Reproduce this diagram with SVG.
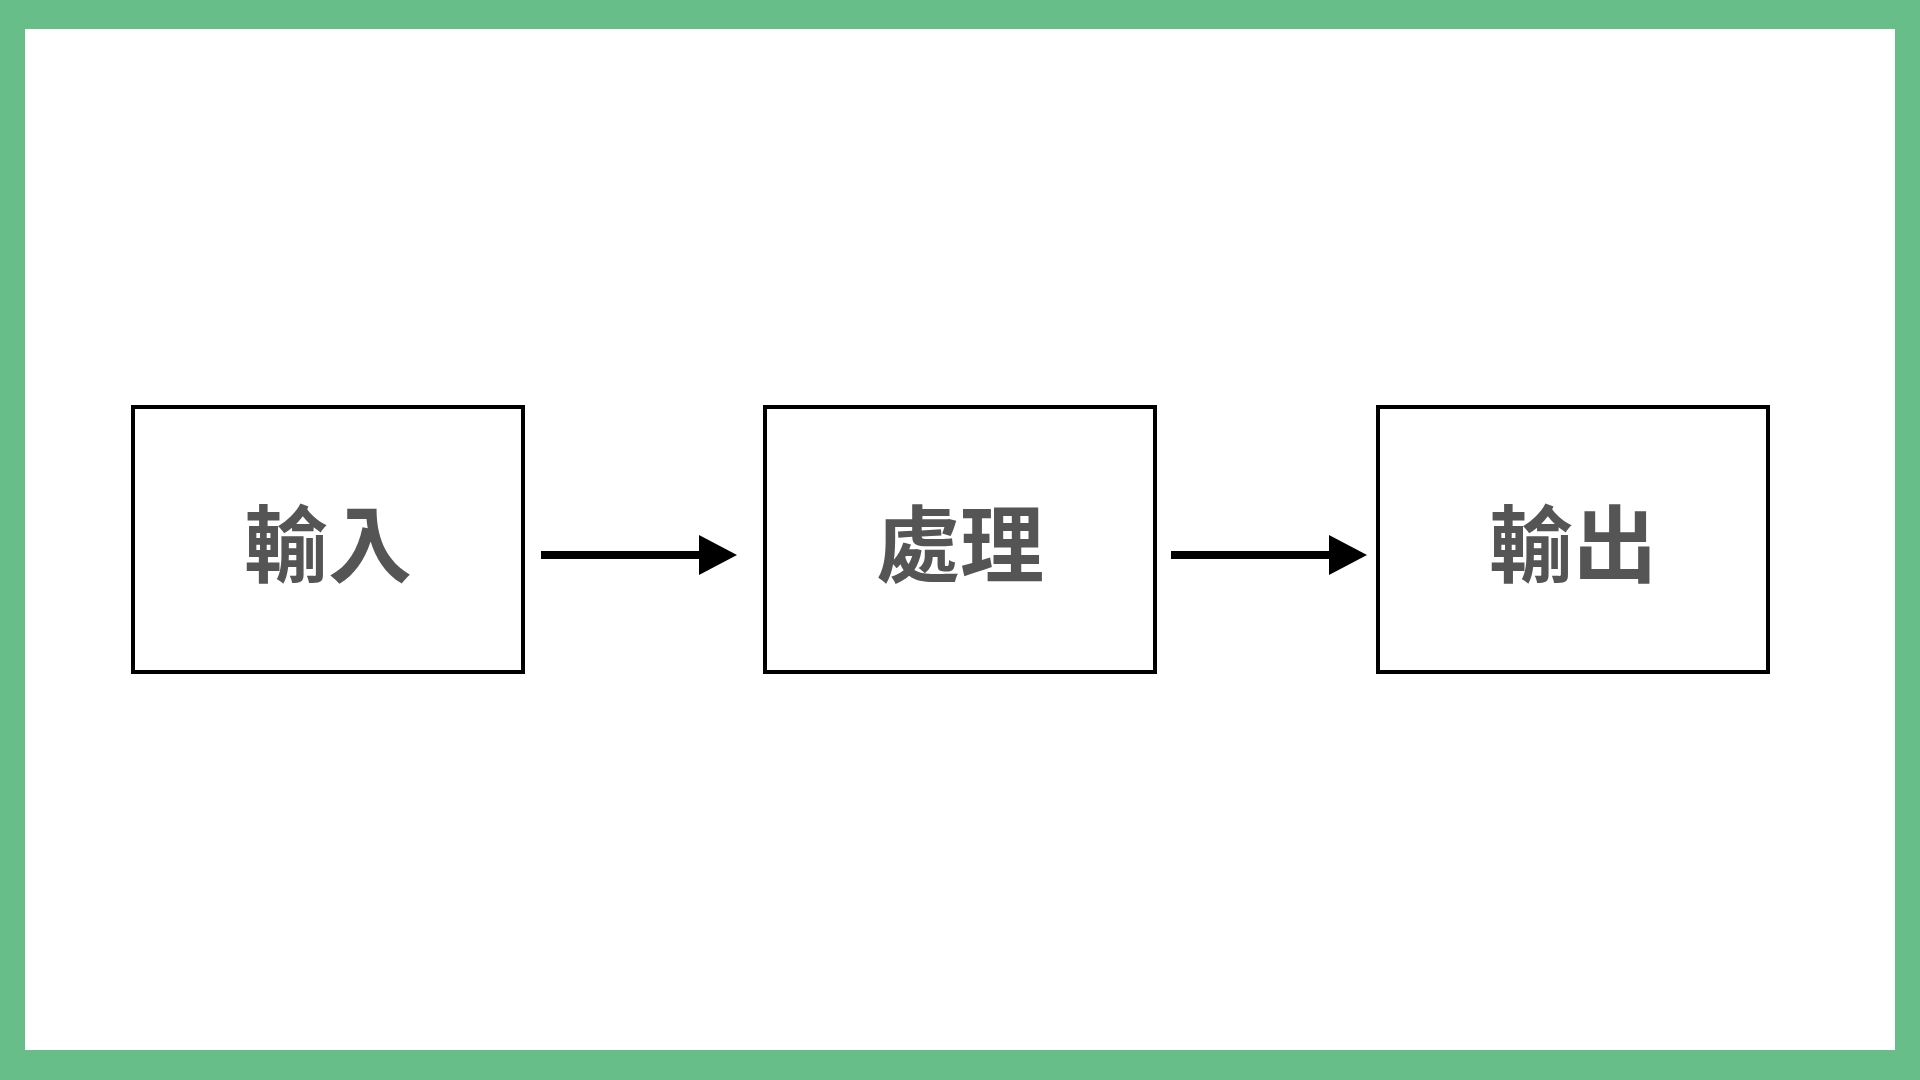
<svg xmlns="http://www.w3.org/2000/svg" width="1920" height="1080" viewBox="0 0 1920 1080">
<style>
.box{fill:#fff;stroke:#000;stroke-width:4}
.lbl{font-family:"Noto Sans CJK TC","Noto Sans CJK SC",sans-serif;font-weight:bold;font-size:84px;fill:#555;text-anchor:middle;dominant-baseline:central}
.conn{stroke:#000;stroke-width:8;fill:none}
</style>
<rect x="0" y="0" width="1920" height="1080" fill="#68be88"/>
<rect x="25" y="29" width="1870" height="1021" fill="#fff"/>
<g id="input"><rect class="box" x="133" y="407" width="390" height="265"/><text class="lbl" x="328" y="539">輸入</text></g>
<g id="process"><rect class="box" x="765" y="407" width="390" height="265"/><text class="lbl" x="960" y="539">處理</text></g>
<g id="output"><rect class="box" x="1378" y="407" width="390" height="265"/><text class="lbl" x="1573" y="539">輸出</text></g>
<g id="connectors">
<line class="conn" x1="541" y1="555" x2="700" y2="555"/><polygon points="699,535 737,555 699,575" fill="#000"/>
<line class="conn" x1="1171" y1="555" x2="1330" y2="555"/><polygon points="1329,535 1367,555 1329,575" fill="#000"/>
</g>
</svg>
